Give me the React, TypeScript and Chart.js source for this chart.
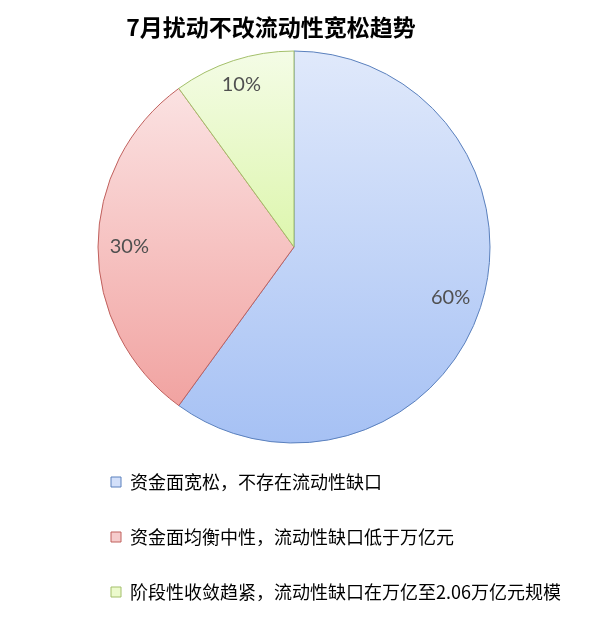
import { useEffect, useRef } from "react";
import { Chart, registerables } from "chart.js";

Chart.register(...registerables);

const titleText = "7月扰动不改流动性宽松趋势";
const categories = [
  "资金面宽松，不存在流动性缺口",
  "资金面均衡中性，流动性缺口低于万亿元",
  "阶段性收敛趋紧，流动性缺口在万亿至2.06万亿元规模",
];
const shares = [60, 30, 10];

const borderColors = ["#5a80bd", "#c0605d", "#a3bf6a"];
const topColors = ["#e0e9fb", "#fbe2e2", "#f4fce6"];
const bottomColors = ["#a6c1f4", "#f1a3a1", "#ddf6ad"];
const boxColors = ["#d3e0fa", "#f6cccc", "#ecfacd"];

const PIE_RADIUS = 196;

// vertical extent of one slice, used for an Excel-like gradient per slice
function sliceExtent(chart: Chart, index: number) {
  const area = chart.chartArea;
  const cy = (area.top + area.bottom) / 2;
  const total = shares.reduce((a, b) => a + b, 0);
  const before = shares.slice(0, index).reduce((a, b) => a + b, 0);
  const a0 = -Math.PI / 2 + (2 * Math.PI * before) / total;
  const a1 = -Math.PI / 2 + (2 * Math.PI * (before + shares[index])) / total;
  let minY = cy;
  let maxY = cy;
  for (let k = 0; k <= 90; k++) {
    const a = a0 + ((a1 - a0) * k) / 90;
    const y = cy + PIE_RADIUS * Math.sin(a);
    minY = Math.min(minY, y);
    maxY = Math.max(maxY, y);
  }
  return { minY, maxY };
}

const shiftPlugin = {
  id: "shiftBoxes",
  afterLayout(chart: any) {
    if (chart.titleBlock) {
      chart.titleBlock.left -= 23;
      chart.titleBlock.right -= 23;
    }
    if (chart.legend) {
      chart.legend.left += 66;
      chart.legend.right += 66;
    }
  },
};

const labelPlugin = {
  id: "sliceLabels",
  afterDatasetsDraw(chart: any) {
    const ctx = chart.ctx;
    const meta = chart.getDatasetMeta(0);
    ctx.save();
    ctx.font = "20px Lato, 'Noto Sans', sans-serif";
    ctx.fillStyle = "#505050";
    ctx.textAlign = "center";
    ctx.textBaseline = "middle";
    meta.data.forEach((arc: any, i: number) => {
      const { x, y, startAngle, endAngle, outerRadius } = arc.getProps(
        ["x", "y", "startAngle", "endAngle", "outerRadius"],
        true
      );
      const mid = (startAngle + endAngle) / 2;
      const r = outerRadius * (shares[i] < 15 ? 0.87 : 0.84);
      ctx.fillText(`${shares[i]}%`, x + r * Math.cos(mid), y + r * Math.sin(mid));
    });
    ctx.restore();
  },
};

export default function App() {
  const chartRef = useRef<HTMLCanvasElement | null>(null);
  const chartInstance = useRef<Chart | null>(null);

  useEffect(() => {
    if (!chartRef.current) return;
    if (chartInstance.current) {
      chartInstance.current.destroy();
    }
    const ctx = chartRef.current.getContext("2d");
    if (!ctx) return;

    chartInstance.current = new Chart(ctx, {
      type: "pie",
      data: {
        labels: categories,
        datasets: [
          {
            data: shares,
            backgroundColor: (context: any) => {
              const chart = context.chart;
              const i = context.dataIndex;
              if (!chart.chartArea || i === undefined) return topColors[0];
              const { minY, maxY } = sliceExtent(chart, i);
              const g = chart.ctx.createLinearGradient(0, minY, 0, maxY);
              g.addColorStop(0, topColors[i]);
              g.addColorStop(1, bottomColors[i]);
              return g;
            },
            borderColor: borderColors,
            borderWidth: 1,
            hoverOffset: 0,
          },
        ],
      },
      options: {
        responsive: true,
        maintainAspectRatio: false,
        animation: false,
        radius: PIE_RADIUS,
        layout: {
          padding: { top: 0, left: 0, right: 12, bottom: 1 },
        },
        plugins: {
          title: {
            display: true,
            text: titleText,
            color: "#000000",
            font: {
              family: "'Noto Sans CJK SC', sans-serif",
              size: 23,
              weight: "bold",
            },
            padding: { top: 5.4, bottom: 17 },
          },
          legend: {
            position: "bottom",
            align: "start",
            labels: {
              boxWidth: 10,
              boxHeight: 10,
              padding: 37,
              color: "#606060",
              font: {
                family: "'Noto Sans CJK SC', sans-serif",
                size: 18,
              },
              generateLabels: () =>
                categories.map((text, i) => ({
                  text,
                  fillStyle: boxColors[i],
                  strokeStyle: borderColors[i],
                  lineWidth: 1,
                  hidden: false,
                  index: i,
                })),
            },
          },
          tooltip: { enabled: false },
        },
      },
      plugins: [shiftPlugin, labelPlugin],
    });

    return () => {
      if (chartInstance.current) {
        chartInstance.current.destroy();
        chartInstance.current = null;
      }
    };
  }, []);

  return (
    <div style={{ width: "100%", height: "604px", position: "relative" }}>
      <canvas ref={chartRef} />
    </div>
  );
}
